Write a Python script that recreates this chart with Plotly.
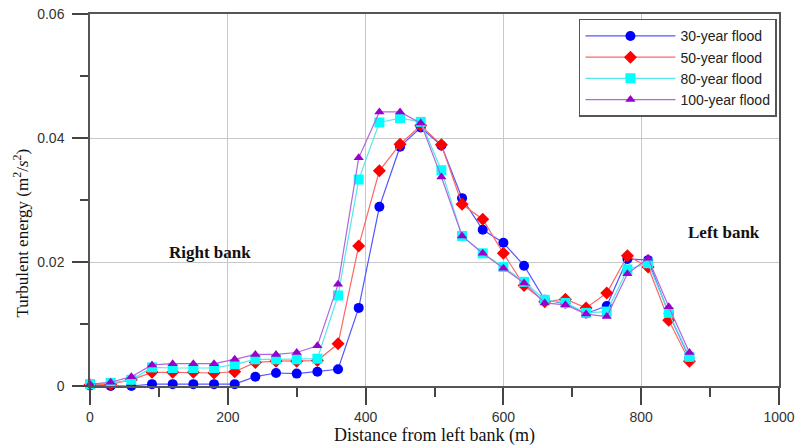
import plotly.graph_objects as go

distance = [0, 30, 60, 90, 120, 150, 180, 210, 240, 270, 300, 330, 360, 390, 420,
            450, 480, 510, 540, 570, 600, 630, 660, 690, 720, 750, 780, 810, 840, 870]

flood_30 = [0.0001, 0.0000, 0.0000, 0.0003, 0.0003, 0.0003, 0.0003, 0.0003, 0.0015, 0.0021,
            0.0020, 0.0023, 0.0027, 0.0126, 0.0289, 0.0386, 0.0417, 0.0388, 0.0303, 0.0252,
            0.0231, 0.0194, 0.0139, 0.0133, 0.0117, 0.0129, 0.0205, 0.0203, 0.0117, 0.0045]
flood_50 = [0.0002, 0.0003, 0.0010, 0.0022, 0.0022, 0.0022, 0.0021, 0.0023, 0.0038, 0.0040,
            0.0040, 0.0041, 0.0068, 0.0226, 0.0347, 0.0390, 0.0420, 0.0389, 0.0293, 0.0269,
            0.0214, 0.0162, 0.0136, 0.0140, 0.0126, 0.0150, 0.0210, 0.0192, 0.0106, 0.0040]
flood_80 = [0.0003, 0.0005, 0.0010, 0.0030, 0.0029, 0.0029, 0.0029, 0.0035, 0.0043, 0.0043,
            0.0043, 0.0044, 0.0146, 0.0333, 0.0425, 0.0432, 0.0426, 0.0348, 0.0242, 0.0214,
            0.0192, 0.0168, 0.0139, 0.0134, 0.0118, 0.0120, 0.0188, 0.0198, 0.0118, 0.0047]
flood_100 = [0.0003, 0.0006, 0.0015, 0.0034, 0.0036, 0.0036, 0.0036, 0.0043, 0.0051, 0.0051,
             0.0054, 0.0065, 0.0164, 0.0368, 0.0442, 0.0442, 0.0424, 0.0337, 0.0242, 0.0214,
             0.0190, 0.0166, 0.0134, 0.0131, 0.0116, 0.0112, 0.0181, 0.0206, 0.0128, 0.0054]

series_names = ["30-year flood", "50-year flood", "80-year flood", "100-year flood"]
series_values = [flood_30, flood_50, flood_80, flood_100]
marker_colors = ["#0000ff", "#ff0000", "#00ffff", "#9900cc"]
line_colors = ["#5555ff", "#ff6666", "#55e8e8", "#b366e0"]
symbols = ["circle", "diamond", "square", "triangle-up"]
sizes = [10, 10, 10, 9]

fig = go.Figure()
for name, vals, mc, lc, sym, sz in zip(series_names, series_values, marker_colors,
                                       line_colors, symbols, sizes):
    fig.add_trace(go.Scatter(
        x=distance, y=vals, name=name, mode="lines+markers",
        line=dict(color=lc, width=1.2),
        marker=dict(color=mc, symbol=sym, size=sz, line=dict(width=0)),
        cliponaxis=False,
    ))

axis_font = dict(family="Liberation Sans, Arial, sans-serif", size=14, color="#333333")
serif = "Liberation Serif, Times New Roman, serif"

fig.update_xaxes(
    range=[0, 1000], dtick=200, tick0=0, automargin=False,
    showgrid=True, gridcolor="#c8c8c8", gridwidth=1, zeroline=False,
    showline=True, linecolor="#555555", linewidth=1.5, mirror=True,
    ticks="outside", ticklen=17, tickcolor="#444444", tickwidth=1.5,
    minor=dict(dtick=100, ticks="outside", ticklen=9, tickcolor="#444444", showgrid=False),
    tickfont=axis_font,
    title=dict(text="Distance from left bank (m)",
               font=dict(family=serif, size=18, color="#111111"),
               standoff=0),
)
fig.update_yaxes(
    range=[0, 0.06], tickvals=[0, 0.02, 0.04, 0.06], ticktext=["0", "0.02", "0.04", "0.06"],
    automargin=False,
    showgrid=True, gridcolor="#c8c8c8", gridwidth=1, zeroline=False,
    showline=True, linecolor="#555555", linewidth=1.5, mirror=True,
    ticks="outside", ticklen=16, tickcolor="#444444", tickwidth=1.5,
    minor=dict(tickvals=[0.01, 0.03, 0.05], ticks="outside", ticklen=8, tickcolor="#444444", showgrid=False),
    tickfont=axis_font, ticklabelstandoff=5,
)

fig.add_annotation(text="Turbulent energy (m<sup>2</sup>/<i>s</i><sup>2</sup>)",
                   xref="paper", yref="paper", x=-0.1, y=0.41, textangle=-90,
                   showarrow=False, xanchor="center", yanchor="middle",
                   font=dict(family=serif, size=17, color="#111111"))
fig.add_annotation(text="<b>Right bank</b>", x=174, y=0.0216, showarrow=False,
                   font=dict(family=serif, size=17, color="#111111"))
fig.add_annotation(text="<b>Left bank</b>", x=920, y=0.0247, showarrow=False,
                   font=dict(family=serif, size=17, color="#111111"))

fig.update_layout(
    width=796, height=448,
    margin=dict(l=90, r=17, t=14, b=62),
    paper_bgcolor="white", plot_bgcolor="white",
    showlegend=True,
    legend=dict(x=0.997, y=0.987, xanchor="right", yanchor="top",
                bgcolor="white", bordercolor="#555555", borderwidth=1.5,
                font=dict(family="Liberation Sans, Arial, sans-serif", size=14, color="#222222"),
                itemwidth=90, tracegroupgap=0),
)

fig.write_html("out.html")
